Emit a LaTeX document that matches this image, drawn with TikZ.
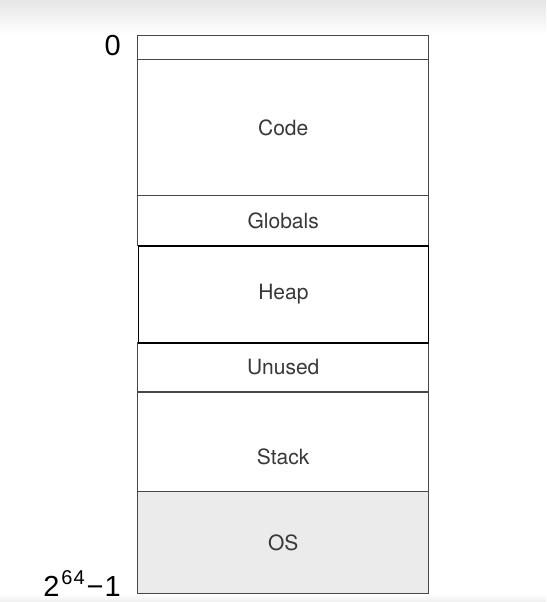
\documentclass[tikz,border=0pt]{standalone}
\usepackage{fontspec}
\setmainfont{TeX Gyre Heros}
\newfontfamily\numfont{Liberation Sans}
\begin{document}
\begin{tikzpicture}[x=1pt,y=-1pt,
  seg/.style={draw=black!72,line width=1.4pt,minimum width=291pt,anchor=north west,inner sep=0pt,font=\fontsize{21}{24}\selectfont,text=black!78},
  txt/.style={font=\fontsize{21}{24}\selectfont,text=black!78,inner sep=0pt},
  lab/.style={font=\numfont\fontsize{29}{30}\selectfont,text=black,inner sep=0pt}]
\useasboundingbox (0,0) rectangle (546,602);
\fill[white] (0,0) rectangle (546,602);
\shade[top color=black!10,bottom color=white] (0,0) rectangle (546,34);
\shade[top color=white,bottom color=black!6] (0,594) rectangle (546,602);
\node[seg,minimum height=24pt] (top) at (137,35) {};
\node[seg,minimum height=136pt] (code) at (137,59) {Code};
\node[seg,minimum height=50pt] (glob) at (137,195) {Globals};
\node[seg,minimum height=49pt] (unused) at (137,342) {Unused};
\node[seg,minimum height=99pt] (stack) at (137,392) {};
\node[txt] (stacklbl) at ([yshift=-15pt]stack.center) {Stack};
\node[seg,minimum height=102pt,fill=black!8] (os) at (137,491) {OS};
\node[seg,draw=black,line width=1.7pt,minimum height=97pt,minimum width=290pt] (heap) at (137.5,245) {Heap};
\node[lab,anchor=east] (zero) at (121,46) {0};
\node[lab,anchor=south east] (max) at (121,597) {2\kern2pt\raisebox{0.42em}{\fontsize{20}{20}\selectfont 6\kern1pt 4}\kern2pt\textminus\kern1pt 1};
\end{tikzpicture}
\end{document}
